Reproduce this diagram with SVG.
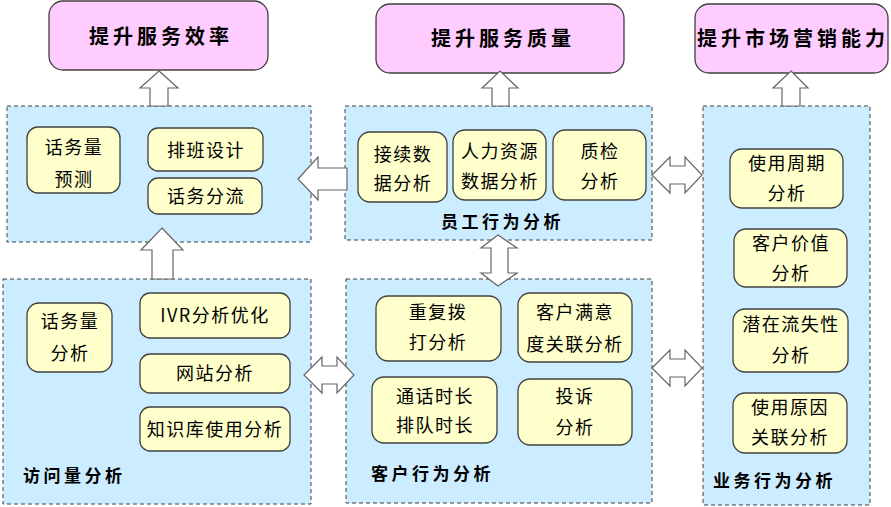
<svg xmlns="http://www.w3.org/2000/svg" width="891" height="507" viewBox="0 0 891 507">
<style>
.goal{fill:#FFCCFF;stroke:#404040;stroke-width:1.3}
.panel{fill:#CCECFF;stroke:#404040;stroke-width:1;stroke-dasharray:4,3}
.box{fill:#FFFFCC;stroke:#404040;stroke-width:1.3}
.arr{fill:#FFFFFF;stroke:#666666;stroke-width:1.2;stroke-linejoin:miter}
text{font-family:"Noto Sans CJK SC","Liberation Sans",sans-serif;fill:#000}
.gt{font-size:20px;font-weight:bold;letter-spacing:4px;text-anchor:middle}
.bt{font-size:18px;letter-spacing:1.5px;text-anchor:middle}
.lt{font-size:17px;font-weight:bold;letter-spacing:3.5px}
</style>
<g id="goal-efficiency"><rect class="goal" x="49" y="1" width="219" height="69" rx="14"/><text class="gt" x="161" y="44">提升服务效率</text></g>
<g id="goal-quality"><rect class="goal" x="376" y="4" width="248" height="69" rx="14"/><text class="gt" x="503" y="46">提升服务质量</text></g>
<g id="goal-marketing"><rect class="goal" x="695" y="4" width="193" height="69" rx="14"/><text class="gt" x="793" y="46">提升市场营销能力</text></g>

<g id="panel-A"><rect class="panel" x="7" y="106" width="304" height="136"/>
<rect class="box" x="27" y="127" width="93" height="66" rx="11"/><text class="bt" x="74" y="154">话务量</text><text class="bt" x="74" y="186">预测</text>
<rect class="box" x="148" y="128" width="115" height="43" rx="10"/><text class="bt" x="206" y="157">排班设计</text>
<rect class="box" x="148" y="178" width="114" height="36" rx="10"/><text class="bt" x="206" y="203">话务分流</text>
</g>

<g id="panel-B"><rect class="panel" x="345" y="106" width="307" height="134"/>
<rect class="box" x="358" y="132" width="89" height="70" rx="12"/><text class="bt" x="403" y="161">接续数</text><text class="bt" x="403" y="190">据分析</text>
<rect class="box" x="453" y="130" width="93" height="70" rx="12"/><text class="bt" x="500" y="158">人力资源</text><text class="bt" x="500" y="188">数据分析</text>
<rect class="box" x="553" y="130" width="93" height="70" rx="12"/><text class="bt" x="600" y="158">质检</text><text class="bt" x="600" y="188">分析</text>
<text class="lt" x="441" y="228">员工行为分析</text>
</g>

<g id="panel-C"><rect class="panel" x="703" y="106" width="167" height="399"/>
<rect class="box" x="730" y="149" width="113" height="59" rx="12"/><text class="bt" x="787" y="170">使用周期</text><text class="bt" x="787" y="200">分析</text>
<rect class="box" x="734" y="229" width="113" height="58" rx="12"/><text class="bt" x="791" y="250">客户价值</text><text class="bt" x="791" y="280">分析</text>
<rect class="box" x="733" y="309" width="115" height="63" rx="12"/><text class="bt" x="791" y="331">潜在流失性</text><text class="bt" x="791" y="362">分析</text>
<rect class="box" x="733" y="393" width="114" height="60" rx="12"/><text class="bt" x="790" y="414">使用原因</text><text class="bt" x="790" y="444">关联分析</text>
<text class="lt" x="713" y="487">业务行为分析</text>
</g>

<g id="panel-D"><rect class="panel" x="3" y="279" width="308" height="225"/>
<rect class="box" x="27" y="303" width="85" height="69" rx="12"/><text class="bt" x="70" y="328">话务量</text><text class="bt" x="70" y="360">分析</text>
<rect class="box" x="140" y="293" width="150" height="45" rx="10"/><text class="bt" x="215" y="322">IVR分析优化</text>
<rect class="box" x="140" y="354" width="150" height="39" rx="10"/><text class="bt" x="215" y="380">网站分析</text>
<rect class="box" x="140" y="407" width="150" height="44" rx="10"/><text class="bt" x="215" y="436">知识库使用分析</text>
<text class="lt" x="23" y="482">访问量分析</text>
</g>

<g id="panel-E"><rect class="panel" x="346" y="279" width="306" height="224"/>
<rect class="box" x="376" y="296" width="125" height="65" rx="12"/><text class="bt" x="438" y="319">重复拨</text><text class="bt" x="438" y="349">打分析</text>
<rect class="box" x="518" y="293" width="114" height="69" rx="12"/><text class="bt" x="575" y="319">客户满意</text><text class="bt" x="575" y="351">度关联分析</text>
<rect class="box" x="372" y="377" width="125" height="66" rx="12"/><text class="bt" x="435" y="403">通话时长</text><text class="bt" x="435" y="432">排队时长</text>
<rect class="box" x="518" y="379" width="114" height="66" rx="12"/><text class="bt" x="575" y="403">投诉</text><text class="bt" x="575" y="434">分析</text>
<text class="lt" x="371" y="480">客户行为分析</text>
</g>

<g id="connectors">
<path class="arr" d="M159,71 L178,88 L168,88 L168,106 L150,106 L150,88 L140,88 Z"/>
<path class="arr" d="M500,71 L518,88 L509,88 L509,106 L492,106 L492,88 L482,88 Z"/>
<path class="arr" d="M791,71 L808,88 L800,88 L800,106 L782,106 L782,88 L773,88 Z"/>
<path class="arr" d="M162,228 L183,250 L173,250 L173,279 L152,279 L152,250 L141,250 Z"/>
<path class="arr" d="M298,179 L318,157 L318,168 L347,168 L347,190 L318,190 L318,200 Z"/>
<path class="arr" d="M498,235 L517,248 L508,248 L508,273 L517,273 L498,286 L481,273 L491,273 L491,248 L481,248 Z"/>
<path class="arr" d="M652,175 L670,157 L670,166 L685,166 L685,157 L702,175 L685,193 L685,184 L670,184 L670,193 Z"/>
<path class="arr" d="M304,375 L322,357 L322,366 L337,366 L337,357 L354,375 L337,393 L337,384 L322,384 L322,393 Z"/>
<path class="arr" d="M652,368 L670,350 L670,359 L685,359 L685,350 L702,368 L685,386 L685,377 L670,377 L670,386 Z"/>
</g>
</svg>
